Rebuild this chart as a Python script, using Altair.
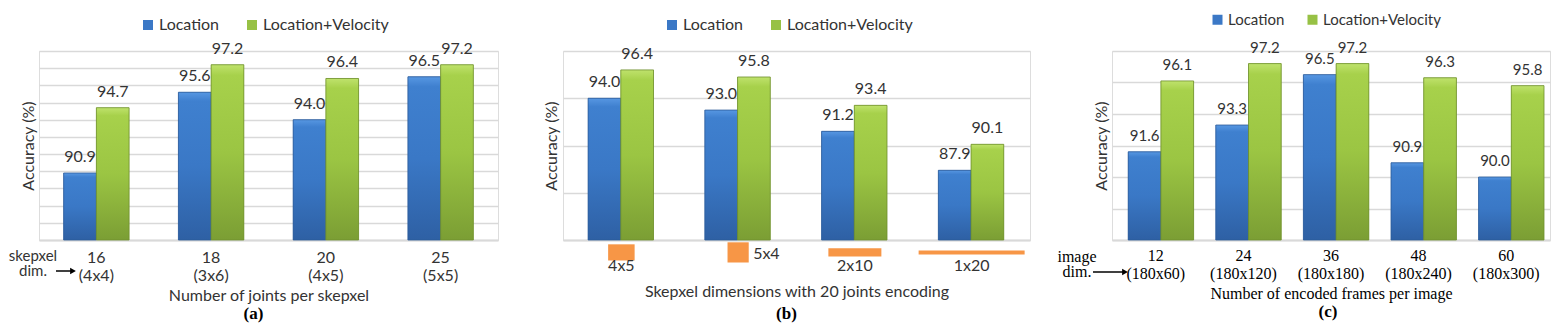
import altair as alt
import pandas as pd

# ---------------- data ----------------
series = ["Location", "Location+Velocity"]

a_cats = ["16", "18", "20", "25"]
a_dims = ["(4x4)", "(3x6)", "(4x5)", "(5x5)"]
a_loc = [90.9, 95.6, 94.0, 96.5]
a_lv = [94.7, 97.2, 96.4, 97.2]

b_cats = ["4x5", "5x4", "2x10", "1x20"]
b_rows = [4, 5, 2, 1]
b_cols = [5, 4, 10, 20]
b_loc = [94.0, 93.0, 91.2, 87.9]
b_lv = [96.4, 95.8, 93.4, 90.1]

c_cats = ["12", "24", "36", "48", "60"]
c_dims = ["(180x60)", "(180x120)", "(180x180)", "(180x240)", "(180x300)"]
c_loc = [91.6, 93.3, 96.5, 90.9, 90.0]
c_lv = [96.1, 97.2, 97.2, 96.3, 95.8]

# ---------------- styles ----------------
SANS = "Lato"
SERIF = "Liberation Serif"
TXT = "#333333"
GRID = "#d9d9d9"
SOLID = ["#3b78c6", "#97c145"]

grad_blue = alt.LinearGradient(
    gradient="linear", x1=0, y1=0, x2=0, y2=1,
    stops=[alt.GradientStop(color="#5797e2", offset=0),
           alt.GradientStop(color="#3f80cf", offset=0.06),
           alt.GradientStop(color="#3a78c6", offset=0.5),
           alt.GradientStop(color="#2e60a4", offset=1)])
grad_green = alt.LinearGradient(
    gradient="linear", x1=0, y1=0, x2=0, y2=1,
    stops=[alt.GradientStop(color="#bfe26c", offset=0),
           alt.GradientStop(color="#a7d14b", offset=0.06),
           alt.GradientStop(color="#9bc543", offset=0.5),
           alt.GradientStop(color="#7b9e34", offset=1)])
strokes = ["#2c5a98", "#6f8f2d"]


def long_df(keys, loc, lv):
    rows = []
    for k, v1, v2 in zip(keys, loc, lv):
        rows.append({"key": k, "series": series[0], "value": v1})
        rows.append({"key": k, "series": series[1], "value": v2})
    return pd.DataFrame(rows)


def panel(df, keys, ymin, ymax, ystep, pin, xaxis, ytitle_pad,
          legend_x, legend_y, col_pad, legend_fs, value_fs):
    yvals = list(range(ymin, ymax + 1, ystep))
    xenc = alt.X("key:N", sort=keys, title=xaxis.get("title"),
                 scale=alt.Scale(paddingInner=pin, paddingOuter=pin / 2),
                 axis=xaxis["axis"])
    xoff = alt.XOffset("series:N", sort=series,
                       scale=alt.Scale(paddingInner=0, paddingOuter=0))
    yscale = alt.Scale(domain=[ymin, ymax], zero=False, nice=False)
    yaxis = alt.Axis(values=yvals, labels=False, ticks=False, domain=False,
                     grid=True, gridColor=GRID, gridWidth=1.5,
                     titleFont=SANS, titleFontSize=16, titleFontWeight="normal",
                     titleColor=TXT, titlePadding=ytitle_pad)
    yenc = alt.Y("value:Q", scale=yscale, axis=yaxis, title="Accuracy (%)")
    y2enc = alt.Y2(datum=ymin)

    base = alt.Chart(df)
    bars = base.mark_bar().encode(
        x=xenc, xOffset=xoff, y=yenc, y2=y2enc,
        color=alt.Color("series:N", sort=series,
                        scale=alt.Scale(domain=series, range=SOLID),
                        legend=alt.Legend(orient="none", legendX=legend_x,
                                          legendY=legend_y, direction="horizontal",
                                          title=None, symbolType="square",
                                          symbolSize=100, symbolStrokeWidth=0,
                                          labelFont=SANS, labelFontSize=legend_fs,
                                          labelColor=TXT, labelOffset=3,
                                          columnPadding=col_pad)))
    overlays = []
    for s, g, st in zip(series, [grad_blue, grad_green], strokes):
        overlays.append(
            base.transform_filter(alt.datum.series == s)
            .mark_bar(fill=g, stroke=st, strokeWidth=0.8)
            .encode(x=xenc, xOffset=xoff, y=yenc, y2=y2enc))
    labels = base.mark_text(dy=-11, baseline="alphabetic", font=SANS,
                            fontSize=value_fs, color=TXT).encode(
        x=xenc, xOffset=xoff, y=yenc,
        text=alt.Text("value:Q", format=".1f"))
    return [bars] + overlays + [labels]


def xaxis_two_line(title, font, fs, lh, title_fs, lpad):
    col = TXT if font == SANS else "#000000"
    return {
        "title": title,
        "axis": alt.Axis(labelExpr="split(datum.label, '|')", labelFont=font,
                         labelFontSize=fs, labelLineHeight=lh, labelPadding=lpad,
                         labelColor=col, labelAngle=0, ticks=False, domain=True,
                         domainColor=GRID, domainWidth=2, grid=False,
                         titleFont=font, titleFontSize=title_fs,
                         titleFontWeight="normal", titleColor=col,
                         titlePadding=4),
    }


one = pd.DataFrame({"k": [0]})


def title(text, dx, offset):
    return alt.TitleParams(text=text, orient="bottom", font=SERIF,
                           fontWeight="bold", fontSize=17, color="#000000",
                           dx=dx, offset=offset)


def spacer(w):
    return alt.Chart(one).mark_point(opacity=0).encode(
        x=alt.value(0), y=alt.value(0)).properties(
        width=w, height=H, view=alt.ViewConfig(stroke="transparent", strokeWidth=0))


H = 189

# ---------------- panel (a) ----------------
a_keys = [f"{c}|{d}" for c, d in zip(a_cats, a_dims)]
df_a = long_df(a_keys, a_loc, a_lv)
A_W = 459
layers_a = panel(df_a, a_keys, 87, 98, 1, 0.43,
                 xaxis_two_line("Number of joints per skepxel", SANS, 16, 18, 16, 9),
                 3, 101, -34, 24, 16, 16)
ann_a = alt.Chart(one).mark_text(font=SANS, fontSize=15, color=TXT,
                                 align="center", baseline="top",
                                 lineHeight=15).encode(
    x=alt.value(-6), y=alt.value(198), text=alt.value(["skepxel", "dim."]))
arrow_a = alt.Chart(one).mark_rule(color="#000000", strokeWidth=1.5).encode(
    x=alt.value(17), x2=alt.value(33), y=alt.value(220))
head_a = alt.Chart(one).mark_point(shape="triangle-right", filled=True,
                                   size=45, color="#000000", opacity=1).encode(
    x=alt.value(34), y=alt.value(220))
chart_a = alt.layer(*layers_a, ann_a, arrow_a, head_a).properties(
    width=A_W, height=H, title=title("(a)", -15, 3))

# ---------------- panel (b) ----------------
df_b = long_df(b_cats, b_loc, b_lv)
B_W = 467
b_axis = {
    "title": "Skepxel dimensions with 20 joints encoding",
    "axis": alt.Axis(labels=False, ticks=False, domain=True, domainColor=GRID,
                     domainWidth=2, grid=False, titleFont=SANS, titleFontSize=16,
                     titleFontWeight="normal", titleColor=TXT, titlePadding=43),
}
layers_b = panel(df_b, b_cats, 82, 98, 2, 0.43, b_axis, 4, 101, -34, 24, 16, 16)
icons = pd.DataFrame({"key": b_cats, "rows": b_rows, "cols": b_cols})
icon_y = alt.Scale(domain=[82, 98], zero=False, nice=False)
icon_bars = alt.Chart(icons).transform_calculate(
    w="datum.cols * 5.3",
    top="80.95 + datum.rows * 0.171",
    bot="80.95 - datum.rows * 0.171",
).mark_bar(color="#f79646").encode(
    x=alt.X("key:N", sort=b_cats),
    y=alt.Y("top:Q", scale=icon_y, title="Accuracy (%)"),
    y2="bot:Q",
    size=alt.Size("w:Q", scale=None, legend=None))
icon_lbl_below = alt.Chart(icons).transform_filter(
    alt.datum.key != "5x4").mark_text(font=SANS, fontSize=16, color=TXT,
                                      baseline="middle").encode(
    x=alt.X("key:N", sort=b_cats), y=alt.value(215), text="key:N")
icon_lbl_side = alt.Chart(icons).transform_filter(
    alt.datum.key == "5x4").mark_text(font=SANS, fontSize=16, color=TXT,
                                      baseline="middle", align="left",
                                      dx=15).encode(
    x=alt.X("key:N", sort=b_cats), y=alt.value(203), text="key:N")
chart_b = alt.layer(*layers_b, icon_bars, icon_lbl_below, icon_lbl_side).properties(
    width=B_W, height=H, title=title("(b)", -10, 7))

# ---------------- panel (c) ----------------
c_keys = [f"{c}|{d}" for c, d in zip(c_cats, c_dims)]
df_c = long_df(c_keys, c_loc, c_lv)
C_W = 438
layers_c = panel(df_c, c_keys, 86, 98, 2, 0.37,
                 xaxis_two_line("Number of encoded frames per image", SERIF, 16, 18, 16, 7),
                 3, 98, -39, 20, 15, 15)
ann_c = alt.Chart(one).mark_text(font=SERIF, fontSize=16, color="#000000",
                                 align="center", baseline="top",
                                 lineHeight=15).encode(
    x=alt.value(-35), y=alt.value(198), text=alt.value(["image", "dim."]))
arrow_c = alt.Chart(one).mark_rule(color="#000000", strokeWidth=1.5).encode(
    x=alt.value(-19), x2=alt.value(12), y=alt.value(221))
head_c = alt.Chart(one).mark_point(shape="triangle-right", filled=True,
                                   size=45, color="#000000", opacity=1).encode(
    x=alt.value(13), y=alt.value(221))
chart_c = alt.layer(*layers_c, ann_c, arrow_c, head_c).properties(
    width=C_W, height=H, title=title("(c)", -3, 3))

S = 10
chart = alt.hconcat(chart_a, spacer(65 - 2 * S), chart_b, spacer(82 - 2 * S), chart_c,
                    spacing=S, bounds="flush").resolve_scale(
    color="independent", x="independent", y="independent"
).resolve_legend(color="independent").properties(
    padding={"left": 0, "top": 3, "right": 0, "bottom": 0}
).configure_view(stroke="transparent", strokeWidth=0).configure(background="white")

chart.save("out.html", embed_options={"renderer": "svg", "actions": False})
